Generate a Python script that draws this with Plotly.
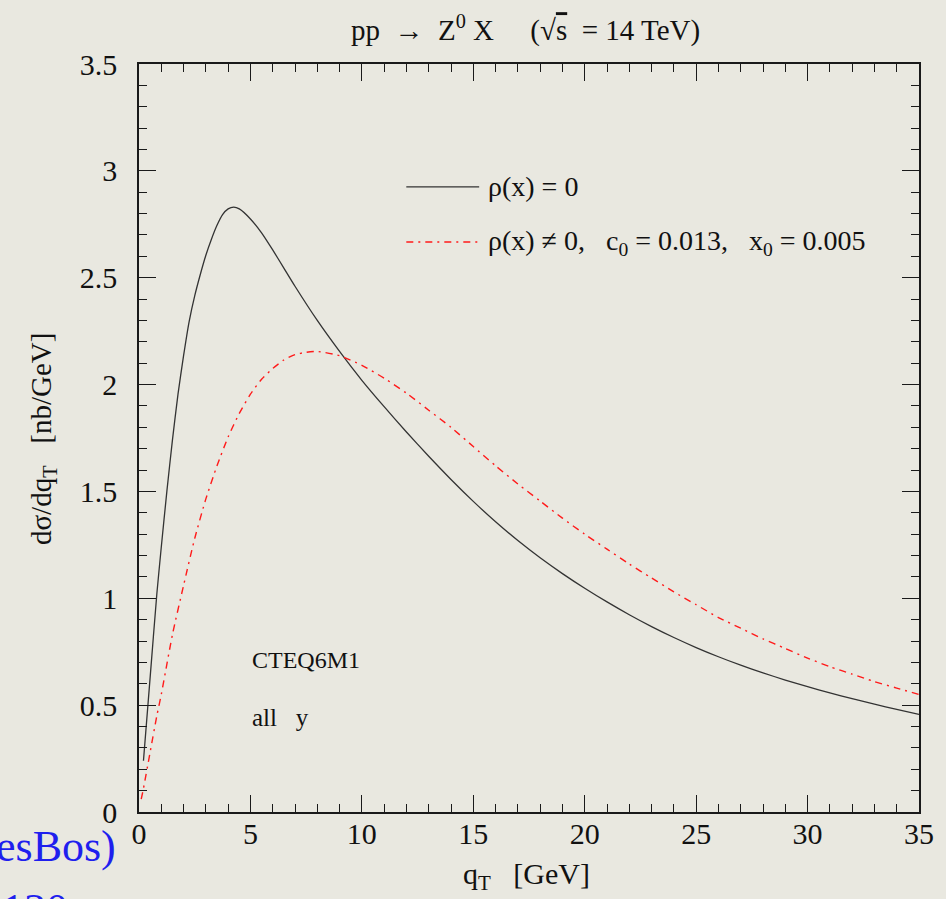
import plotly.graph_objects as go

# q_T grid [GeV] and d(sigma)/dq_T [nb/GeV], rho(x) = 0
qt_rho0 = [0.2, 0.5, 0.8, 1.0, 1.25, 1.5, 1.75, 2.0, 2.25, 2.5, 2.75, 3.0, 3.25, 3.5, 3.75,
           4.0, 4.25, 4.5, 5, 5.5, 6, 6.5, 7, 8, 9, 10, 11, 12, 13, 14, 15, 16, 17, 18, 19,
           20, 21, 22, 23, 24, 25, 26, 27, 28, 29, 30, 31, 32, 33, 34, 35]
xs_rho0 = [0.24, 0.63, 1.02, 1.24, 1.50, 1.74, 1.955, 2.135, 2.295, 2.415, 2.515, 2.605,
           2.68, 2.745, 2.795, 2.822, 2.83, 2.822, 2.775, 2.71, 2.63, 2.545, 2.46, 2.30,
           2.155, 2.02, 1.8965, 1.778, 1.6645, 1.556, 1.4535, 1.358, 1.27, 1.1895, 1.1155,
           1.047, 0.983, 0.923, 0.8675, 0.8165, 0.7695, 0.7265, 0.687, 0.6508, 0.6175,
           0.5865, 0.5575, 0.5303, 0.5045, 0.48, 0.4565]

# rho(x) != 0, c0 = 0.013, x0 = 0.005
qt_rho = [0.1, 0.2, 0.5, 0.8, 1.0, 1.5, 2.0, 2.5, 3.0, 3.5, 4.0, 4.5, 5.0, 5.5, 6, 6.5, 7,
          7.5, 8, 9, 10, 11, 12, 13, 14, 15, 16, 17, 18, 19, 20, 21, 22, 23, 24, 25, 26,
          27, 28, 29, 30, 31, 32, 33, 34, 35]
xs_rho = [0.06, 0.11, 0.28, 0.45, 0.55, 0.83, 1.06, 1.28, 1.465, 1.62, 1.755, 1.865, 1.955,
          2.025, 2.075, 2.115, 2.14, 2.151, 2.155, 2.135, 2.09, 2.03, 1.96, 1.88, 1.80, 1.71,
          1.62, 1.535, 1.455, 1.375, 1.30, 1.23, 1.16, 1.095, 1.03, 0.97, 0.91, 0.86, 0.81,
          0.765, 0.72, 0.68, 0.645, 0.61, 0.58, 0.55]

x_ticks = [0, 5, 10, 15, 20, 25, 30, 35]
y_ticks = [0, 0.5, 1, 1.5, 2, 2.5, 3, 3.5]

SERIF = "Liberation Serif, Times New Roman, serif"
BG = "#e9e8e0"
INK = "#1a1a1a"
TXT = "#111111"
RED = "#ff1a1a"
RED_DASH = "7px,5px,2px,5px"

fig = go.Figure()
fig.add_trace(go.Scatter(x=qt_rho0, y=xs_rho0, mode="lines",
                         line=dict(color="#333333", width=1.3, shape="spline", smoothing=0.6),
                         showlegend=False))
fig.add_trace(go.Scatter(x=qt_rho, y=xs_rho, mode="lines",
                         line=dict(color=RED, width=1.4, dash=RED_DASH,
                                   shape="spline", smoothing=0.6),
                         showlegend=False))

axis_common = dict(
    showline=True, linecolor=INK, linewidth=1.6, mirror="ticks",
    ticks="inside", ticklen=17, tickwidth=1.3, tickcolor=INK,
    showgrid=False, zeroline=False,
    tickfont=dict(family=SERIF, size=30, color=TXT),
)

fig.update_xaxes(range=[0, 35], tickvals=x_ticks, ticktext=[str(v) for v in x_ticks],
                 minor=dict(dtick=1, ticklen=8, tickwidth=1.2, tickcolor=INK, ticks="inside"),
                 ticklabelstandoff=-6, **axis_common)
fig.update_yaxes(range=[0, 3.5], tickvals=y_ticks, ticktext=[f"{v:g}" for v in y_ticks],
                 minor=dict(dtick=0.1, ticklen=8, tickwidth=1.2, tickcolor=INK, ticks="inside"),
                 ticklabelstandoff=14, **axis_common)

# hand-drawn legend in the upper right of the frame
legend_rows = [
    (0.8356, dict(color="#333333", width=1.3), "ρ(x) = 0"),
    (0.762, dict(color=RED, width=1.4, dash=RED_DASH),
     "ρ(x) ≠ 0,   c<sub>0</sub> = 0.013,   x<sub>0</sub> = 0.005"),
]
shapes = []
annotations = []
for yy, ln, label in legend_rows:
    shapes.append(dict(type="line", xref="paper", yref="paper",
                       x0=0.3427, x1=0.4361, y0=yy, y1=yy, line=ln))
    annotations.append(dict(xref="paper", yref="paper", x=0.4450, y=yy, xanchor="left",
                            yanchor="middle", showarrow=False, text=label,
                            font=dict(family=SERIF, size=28, color=TXT)))

annotations += [
    dict(xref="paper", yref="paper", x=0.4955, y=1.048, xanchor="center", yanchor="middle",
         showarrow=False,
         text="pp  →  Z<sup>0</sup> X     (√<span style='text-decoration:overline'>s</span>  = 14 TeV)",
         font=dict(family=SERIF, size=29, color=TXT)),
    dict(xref="paper", yref="paper", x=0.142, y=0.2032, xanchor="left", yanchor="middle",
         showarrow=False, text="CTEQ6M1", font=dict(family=SERIF, size=24, color=TXT)),
    dict(xref="paper", yref="paper", x=0.142, y=0.1257, xanchor="left", yanchor="middle",
         showarrow=False, text="all   y", font=dict(family=SERIF, size=25, color=TXT)),
    dict(xref="paper", yref="paper", x=-0.124, y=0.499, xanchor="center", yanchor="middle",
         textangle=-90, showarrow=False, text="dσ/dq<sub>T</sub>   [nb/GeV]",
         font=dict(family=SERIF, size=29, color=TXT)),
    dict(xref="paper", yref="paper", x=0.497, y=-0.0856, xanchor="center", yanchor="middle",
         showarrow=False, text="q<sub>T</sub>   [GeV]",
         font=dict(family=SERIF, size=30, color=TXT)),
    dict(xref="paper", yref="paper", x=-0.027, y=-0.046, xanchor="right", yanchor="middle",
         showarrow=False, text="esBos)", font=dict(family=SERIF, size=44, color="#1f1fee")),
    dict(xref="paper", yref="paper", x=-0.178, y=-0.095, xanchor="left", yanchor="top",
         showarrow=False, text="130", font=dict(family=SERIF, size=44, color="#1f1fee")),
]

fig.update_layout(
    width=946, height=899,
    margin=dict(l=139, r=25, t=64, b=87),
    paper_bgcolor=BG, plot_bgcolor=BG,
    showlegend=False,
    shapes=shapes, annotations=annotations,
)

fig.write_html("out.html")
